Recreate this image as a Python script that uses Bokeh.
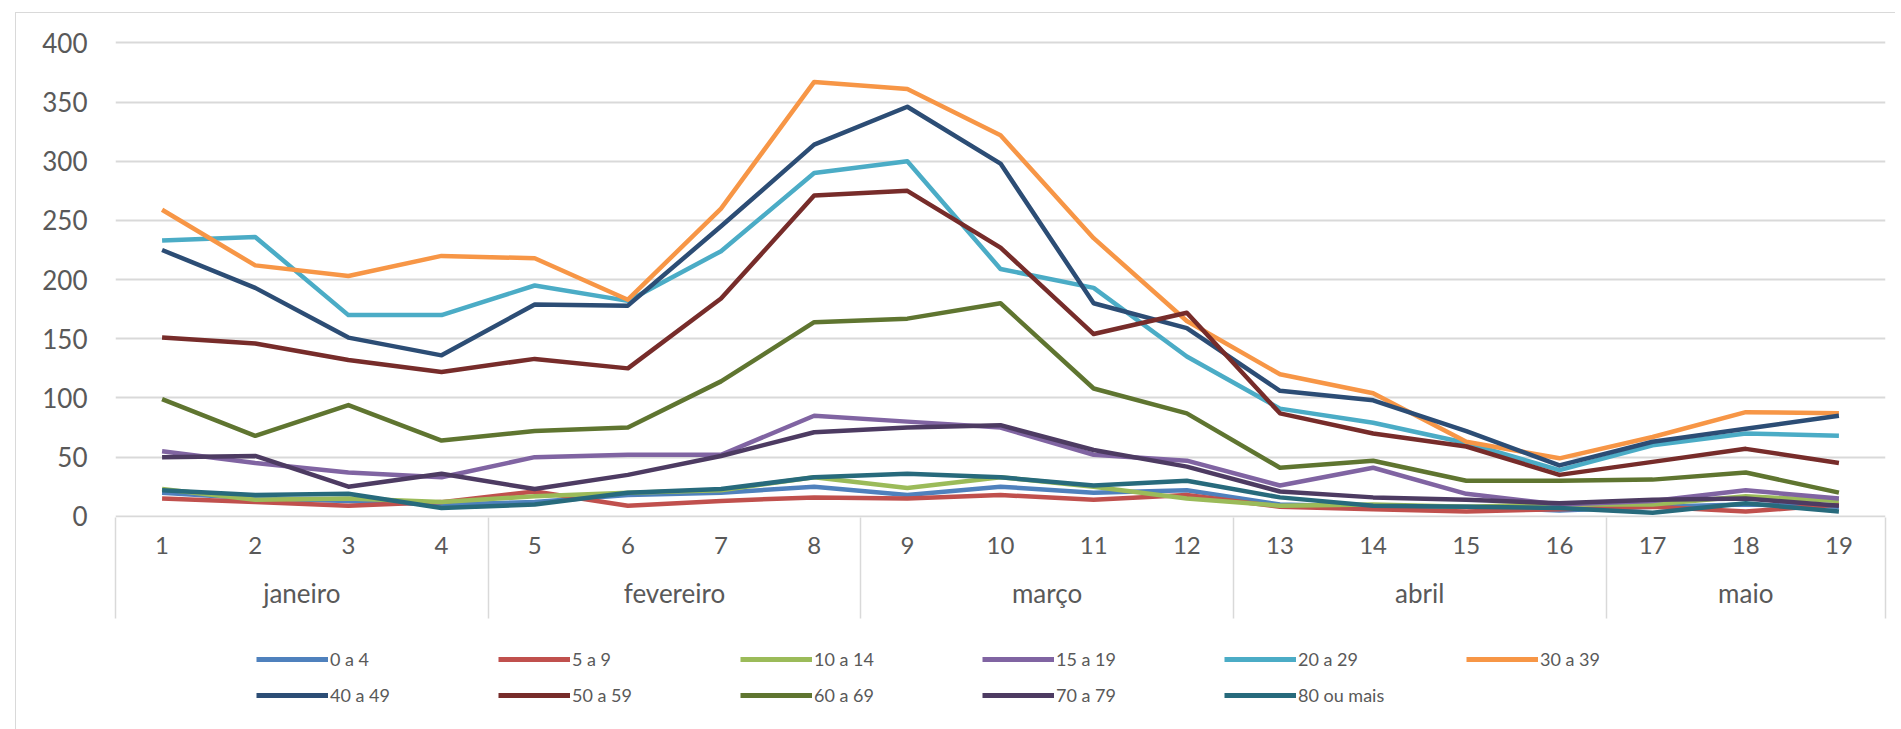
from bokeh.plotting import figure
from bokeh.layouts import column
from bokeh.models import (Range1d, FixedTicker, LinearAxis, Legend, LegendItem)
from bokeh.embed import file_html
from bokeh.resources import INLINE

# ---------------- data ----------------
weeks = list(range(1, 20))
week_labels = [str(w) for w in weeks]
months = ["janeiro", "fevereiro", "março", "abril", "maio"]
month_weeks = [4, 4, 4, 4, 3]

series_names = ["0 a 4", "5 a 9", "10 a 14", "15 a 19", "20 a 29", "30 a 39",
                "40 a 49", "50 a 59", "60 a 69", "70 a 79", "80 ou mais"]

s0_4 = [20, 15, 13, 10, 12, 18, 20, 25, 18, 25, 20, 22, 10, 8, 8, 5, 8, 10, 8]
s5_9 = [15, 12, 9, 12, 21, 9, 13, 16, 15, 18, 14, 18, 8, 6, 4, 6, 8, 4, 10]
s10_14 = [23, 14, 15, 12, 17, 20, 22, 33, 24, 33, 25, 15, 9, 10, 8, 10, 10, 17, 13]
s15_19 = [55, 45, 37, 33, 50, 52, 52, 85, 80, 75, 52, 47, 26, 41, 19, 10, 13, 22, 15]
s20_29 = [233, 236, 170, 170, 195, 182, 224, 290, 300, 209, 193, 135, 91, 79, 62, 39, 60, 70, 68]
s30_39 = [259, 212, 203, 220, 218, 183, 260, 367, 361, 322, 235, 165, 120, 104, 63, 49, 67, 88, 87]
s40_49 = [225, 193, 151, 136, 179, 178, 245, 314, 346, 298, 180, 159, 106, 98, 72, 43, 63, 74, 85]
s50_59 = [151, 146, 132, 122, 133, 125, 184, 271, 275, 227, 154, 172, 87, 70, 59, 35, 46, 57, 45]
s60_69 = [99, 68, 94, 64, 72, 75, 114, 164, 167, 180, 108, 87, 41, 47, 30, 30, 31, 37, 20]
s70_79 = [50, 51, 25, 36, 23, 35, 51, 71, 75, 77, 56, 42, 21, 16, 14, 11, 14, 15, 9]
s80 = [22, 18, 19, 7, 10, 20, 23, 33, 36, 33, 26, 30, 16, 9, 8, 7, 3, 11, 4]

series_values = [s0_4, s5_9, s10_14, s15_19, s20_29, s30_39,
                 s40_49, s50_59, s60_69, s70_79, s80]
colors = ["#4F81BD", "#C0504D", "#9BBB59", "#8064A2", "#4BACC6", "#F79646",
          "#2C4D75", "#772C2A", "#5F7530", "#4D3B62", "#276A7C"]

y_ticks = [0, 50, 100, 150, 200, 250, 300, 350, 400]

FONT = "Lato"
GRAY = "#595959"
LINE_GRAY = "#d9d9d9"
LW = 4.5

# ---------------- main chart ----------------
p = figure(width=1879, height=612,
           x_range=Range1d(0.5, len(weeks) + 0.5),
           y_range=Range1d(-1, 402),
           output_backend="svg", toolbar_location=None,
           min_border_left=99, min_border_right=10,
           min_border_top=27, min_border_bottom=108)
p.outline_line_color = None
p.background_fill_color = "white"
p.border_fill_color = "white"

for vals, c in zip(series_values, colors):
    p.line(x=weeks, y=vals, line_color=c, line_width=LW, line_join="round")

# y axis
ya = p.yaxis[0]
ya.ticker = FixedTicker(ticks=y_ticks)
ya.axis_line_color = None
ya.major_tick_line_color = None
ya.minor_tick_line_color = None
ya.major_tick_in = 0
ya.major_tick_out = 0
ya.major_label_text_font = FONT
ya.major_label_text_font_size = "26px"
ya.major_label_text_color = GRAY
ya.major_label_standoff = 28

p.ygrid.ticker = FixedTicker(ticks=y_ticks)
p.ygrid.grid_line_color = LINE_GRAY
p.ygrid.grid_line_width = 2
p.xgrid.grid_line_color = None

# month boundaries (used as category separators)
bounds = [0.5]
for n in month_weeks:
    bounds.append(bounds[-1] + n)
centers = [(bounds[i] + bounds[i + 1]) / 2 for i in range(len(months))]

# x axis (weeks) -- long minor ticks act as the month group separators
xa = p.xaxis[0]
xa.ticker = FixedTicker(ticks=weeks, minor_ticks=bounds)
xa.major_label_overrides = {w: l for w, l in zip(weeks, week_labels)}
xa.axis_line_color = None
xa.major_tick_line_color = None
xa.minor_tick_line_color = LINE_GRAY
xa.minor_tick_line_width = 1.5
xa.minor_tick_in = 0
xa.minor_tick_out = 101
xa.major_tick_in = 0
xa.major_tick_out = 0
xa.major_label_text_font = FONT
xa.major_label_text_font_size = "24px"
xa.major_label_text_color = GRAY
xa.major_label_standoff = -82

# month axis
ma = LinearAxis(ticker=FixedTicker(ticks=centers),
                major_label_overrides={c: m for c, m in zip(centers, months)})
ma.axis_line_color = None
ma.major_tick_line_color = None
ma.minor_tick_line_color = None
ma.major_tick_in = 0
ma.major_tick_out = 0
ma.major_label_text_font = FONT
ma.major_label_text_font_size = "26px"
ma.major_label_text_color = GRAY
ma.major_label_standoff = 20
p.add_layout(ma, "below")

# ---------------- legend strip ----------------
lp = figure(width=1879, height=104, x_range=Range1d(0, 1), y_range=Range1d(0, 1),
            x_axis_location=None, y_axis_location=None,
            output_backend="svg", toolbar_location=None,
            min_border_left=0, min_border_right=0, min_border_top=0, min_border_bottom=0)
lp.grid.visible = False
lp.outline_line_color = None
lp.background_fill_color = "white"
lp.border_fill_color = "white"

items = []
for n, vals, c in zip(series_names, series_values, colors):
    # same series, drawn outside this strip's view; only its legend entry shows
    r = lp.line(x=weeks, y=vals, line_color=c, line_width=LW + 0.5)
    items.append(LegendItem(label=n, renderers=[r]))

legend = Legend(items=items, location=(141, 23), orientation="horizontal", ncols=6,
                glyph_width=72, glyph_height=20, label_standoff=2, label_width=154,
                spacing=14, padding=0, margin=0,
                label_text_font=FONT, label_text_font_size="18px",
                label_text_color=GRAY, background_fill_alpha=0,
                border_line_color=None)
lp.add_layout(legend)

layout = column(p, lp, spacing=0)
layout.styles = {"margin-left": "15px", "margin-top": "12px",
                 "border-left": "1px solid #d9d9d9", "border-top": "1px solid #d9d9d9"}
open("out.html", "w").write(file_html(layout, INLINE))
